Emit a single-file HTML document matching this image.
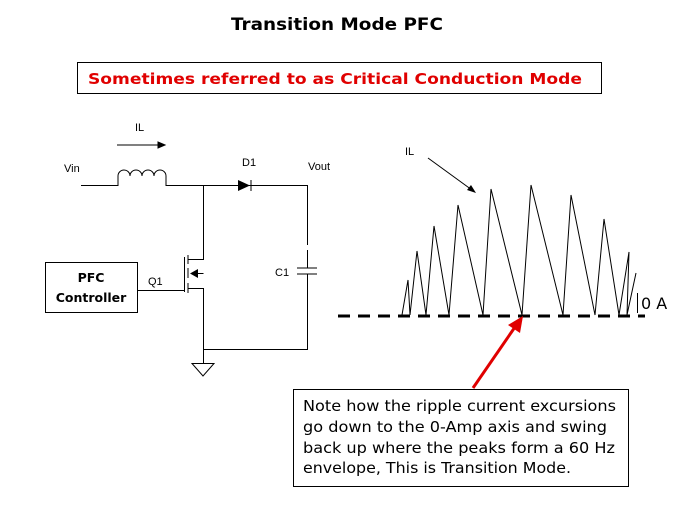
<!DOCTYPE html>
<html><head><meta charset="utf-8"><style>
html,body{margin:0;padding:0;background:#fff;}
svg{display:block;}
</style></head><body>
<svg width="674" height="506" viewBox="0 0 674 506" xmlns="http://www.w3.org/2000/svg">
<text x="337" y="30" text-anchor="middle" font-family="DejaVu Sans, Liberation Sans, sans-serif" font-weight="bold" font-size="17" textLength="212" lengthAdjust="spacingAndGlyphs">Transition Mode PFC</text>
<rect x="77.5" y="62.5" width="524" height="31" fill="none" stroke="#000" stroke-width="1"/>
<text x="88" y="84" font-family="DejaVu Sans, Liberation Sans, sans-serif" font-weight="bold" font-size="15" fill="#e00000" textLength="494" lengthAdjust="spacingAndGlyphs">Sometimes referred to as Critical Conduction Mode</text>

<g font-family="Liberation Sans, Arial, sans-serif" font-size="11" fill="#000">
<text x="135" y="131">IL</text>
<text x="64" y="172">Vin</text>
<text x="242" y="166">D1</text>
<text x="308" y="170">Vout</text>
<text x="148" y="285">Q1</text>
<text x="275" y="276">C1</text>
<text x="405" y="155">IL</text>
</g>
<g stroke="#000" stroke-width="1" fill="none">
<line x1="117" y1="145" x2="160" y2="145"/>
<polygon points="165,145 158,142 158,148" fill="#000"/>
<path d="M81 185.5 H118 V176 A6 6 0 0 1 130 176 A6 6 0 0 1 142 176 A6 6 0 0 1 154 176 A6 6 0 0 1 166 176 V185.5 H307.5 V245"/>
<polygon points="238,180 238,191 250,185.5" fill="#000" stroke="none"/>
<line x1="251" y1="180" x2="251" y2="191"/>
<line x1="297" y1="268" x2="317" y2="268"/>
<line x1="297" y1="274" x2="317" y2="274"/>
<path d="M307.5 250 V268 M307.5 274 V349.5 H203.5"/>
<path d="M203.5 185.5 V259.5 H188 M188 288.5 H203.5 V363"/>
<line x1="188" y1="255" x2="188" y2="264"/>
<line x1="188" y1="268" x2="188" y2="278"/>
<line x1="188" y1="283" x2="188" y2="293"/>
<line x1="184.5" y1="257" x2="184.5" y2="292"/>
<path d="M195 273.5 H203.5"/>
<polygon points="190,273.5 198,269 198,278" fill="#000" stroke="none"/>
<line x1="138" y1="290.5" x2="184" y2="290.5"/>
<rect x="45.5" y="262.5" width="92" height="50"/>
<polygon points="192,363.5 214,363.5 203,376"/>
<line x1="428" y1="158" x2="472" y2="190"/>
</g>
<polygon points="476,193 467,190 471,185" fill="#000"/>
<text x="91" y="282" text-anchor="middle" font-family="DejaVu Sans, Liberation Sans, sans-serif" font-weight="bold" font-size="12.5">PFC</text>
<text x="91" y="302" text-anchor="middle" font-family="DejaVu Sans, Liberation Sans, sans-serif" font-weight="bold" font-size="12.5">Controller</text>

<polyline fill="none" stroke="#000" stroke-width="1" points="402,315 408,280 410,315 417,251 426,315 434,226 449,315 458,205 483,315 491,189 522,315 531,185 563,315 571,195 595,315 604,219 619,315 629,252 627,315 636,273"/>
<line x1="637.5" y1="293" x2="637.5" y2="313" stroke="#000" stroke-width="1"/>
<line x1="338" y1="316" x2="645" y2="316" stroke="#000" stroke-width="3" stroke-dasharray="12,8"/>
<text x="641" y="309" font-family="DejaVu Sans, Liberation Sans, sans-serif" font-size="16">0 A</text>

<line x1="473" y1="388" x2="515" y2="327" stroke="#e00000" stroke-width="3"/>
<polygon points="523,316 520,333 508,325" fill="#e00000"/>
<rect x="293.5" y="389.5" width="335" height="97" fill="#fff" stroke="#000" stroke-width="1"/>
<g font-family="DejaVu Sans, Liberation Sans, sans-serif" font-size="15" fill="#000">
<text x="303" y="411" textLength="313" lengthAdjust="spacingAndGlyphs">Note how the ripple current excursions</text>
<text x="303" y="432" textLength="304" lengthAdjust="spacingAndGlyphs">go down to the 0-Amp axis and swing</text>
<text x="303" y="453" textLength="312" lengthAdjust="spacingAndGlyphs">back up where the peaks form a 60 Hz</text>
<text x="303" y="473" textLength="268" lengthAdjust="spacingAndGlyphs">envelope, This is Transition Mode.</text>
</g>
</svg>
</body></html>
